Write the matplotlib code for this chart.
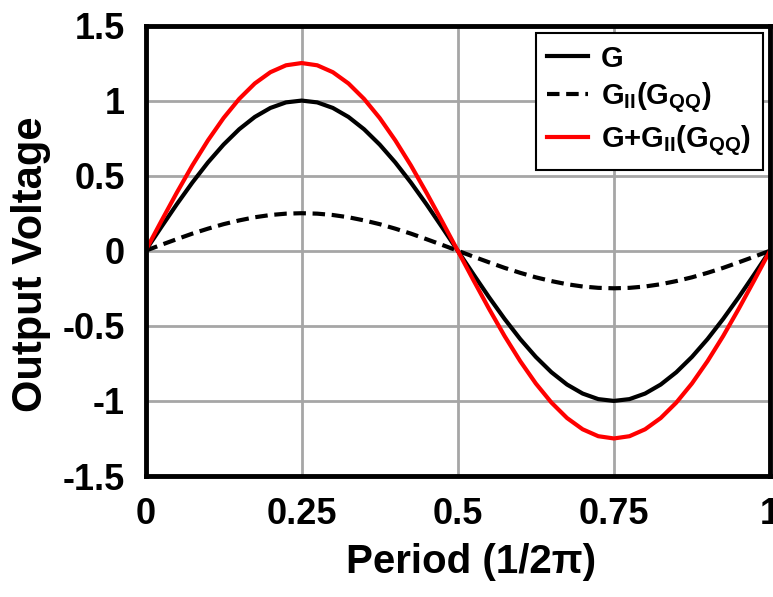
import matplotlib
matplotlib.use('Agg')
import matplotlib.pyplot as plt

plt.rcParams['font.family'] = ['Liberation Sans', 'DejaVu Sans']
plt.rcParams['font.weight'] = 'bold'
plt.rcParams['mathtext.fontset'] = 'custom'
plt.rcParams['mathtext.rm'] = 'Liberation Sans:bold'
plt.rcParams['mathtext.bf'] = 'Liberation Sans:bold'

# period positions (fraction of one cycle)
period = [i * 0.025 for i in range(41)]

# values
g = [0.0, 0.156, 0.309, 0.454, 0.588, 0.707, 0.809, 0.891, 0.951, 0.988,
     1.0, 0.988, 0.951, 0.891, 0.809, 0.707, 0.588, 0.454, 0.309, 0.156,
     0.0, -0.156, -0.309, -0.454, -0.588, -0.707, -0.809, -0.891, -0.951, -0.988,
     -1.0, -0.988, -0.951, -0.891, -0.809, -0.707, -0.588, -0.454, -0.309, -0.156,
     0.0]
g_ii = [0.0, 0.039, 0.077, 0.114, 0.147, 0.177, 0.202, 0.223, 0.238, 0.247,
        0.25, 0.247, 0.238, 0.223, 0.202, 0.177, 0.147, 0.114, 0.077, 0.039,
        0.0, -0.039, -0.077, -0.114, -0.147, -0.177, -0.202, -0.223, -0.238, -0.247,
        -0.25, -0.247, -0.238, -0.223, -0.202, -0.177, -0.147, -0.114, -0.077, -0.039,
        0.0]
g_sum = [0.0, 0.195, 0.386, 0.568, 0.735, 0.884, 1.011, 1.114, 1.189, 1.235,
         1.25, 1.235, 1.189, 1.114, 1.011, 0.884, 0.735, 0.568, 0.386, 0.195,
         0.0, -0.195, -0.386, -0.568, -0.735, -0.884, -1.011, -1.114, -1.189, -1.235,
         -1.25, -1.235, -1.189, -1.114, -1.011, -0.884, -0.735, -0.568, -0.386, -0.195,
         0.0]

x_ticks = [0, 0.25, 0.5, 0.75, 1]
x_labels = ['0', '0.25', '0.5', '0.75', '1']
y_ticks = [-1.5, -1, -0.5, 0, 0.5, 1, 1.5]
y_labels = ['-1.5', '-1', '-0.5', '0', '0.5', '1', '1.5']

fig = plt.figure(figsize=(7.73, 5.97), dpi=100)
ax = fig.add_axes([145.5 / 773, 1 - 476 / 597, (770 - 145.5) / 773, (476 - 25.5) / 597])

ax.plot(period, g, color='black', lw=3, label='G')
ax.plot(period, g_ii, color='black', lw=3, dashes=(3, 1.6), dash_capstyle='butt',
        label=r'G$_{\mathregular{II}}$(G$_{\mathregular{QQ}}$)')
ax.plot(period, g_sum, color='#ff0000', lw=3,
        label=r'G+G$_{\mathregular{II}}$(G$_{\mathregular{QQ}}$)')

ax.set_xlim(0, 1)
ax.set_ylim(-1.5, 1.5)
ax.set_xticks(x_ticks)
ax.set_xticklabels(x_labels)
ax.set_yticks(y_ticks)
ax.set_yticklabels(y_labels)
ax.tick_params(length=0, labelsize=26)
ax.tick_params(axis='x', pad=15)
ax.tick_params(axis='y', pad=15)
ax.grid(True, color='#a6a6a6', lw=2)
ax.set_axisbelow(True)
for s in ax.spines.values():
    s.set_linewidth(3.5)

fig.text(471 / 773, 1 - 562 / 597, 'Period (1/2\u03c0)', fontsize=29, ha='center', va='center')
fig.text(31 / 773, 1 - 264 / 597, 'Output Voltage', fontsize=30, rotation=90,
         ha='center', va='center')

leg = ax.legend(loc='upper right', bbox_to_anchor=(763 / 773, 1 - 33 / 597),
                bbox_transform=fig.transFigure, fontsize=21, frameon=True,
                fancybox=False, handlelength=1.4, handletextpad=0.45,
                labelspacing=0.28, borderaxespad=0, borderpad=0.4)
leg.get_frame().set_edgecolor('black')
leg.get_frame().set_linewidth(1.5)
leg.get_frame().set_alpha(1)

fig.savefig('out.png', dpi=100)
